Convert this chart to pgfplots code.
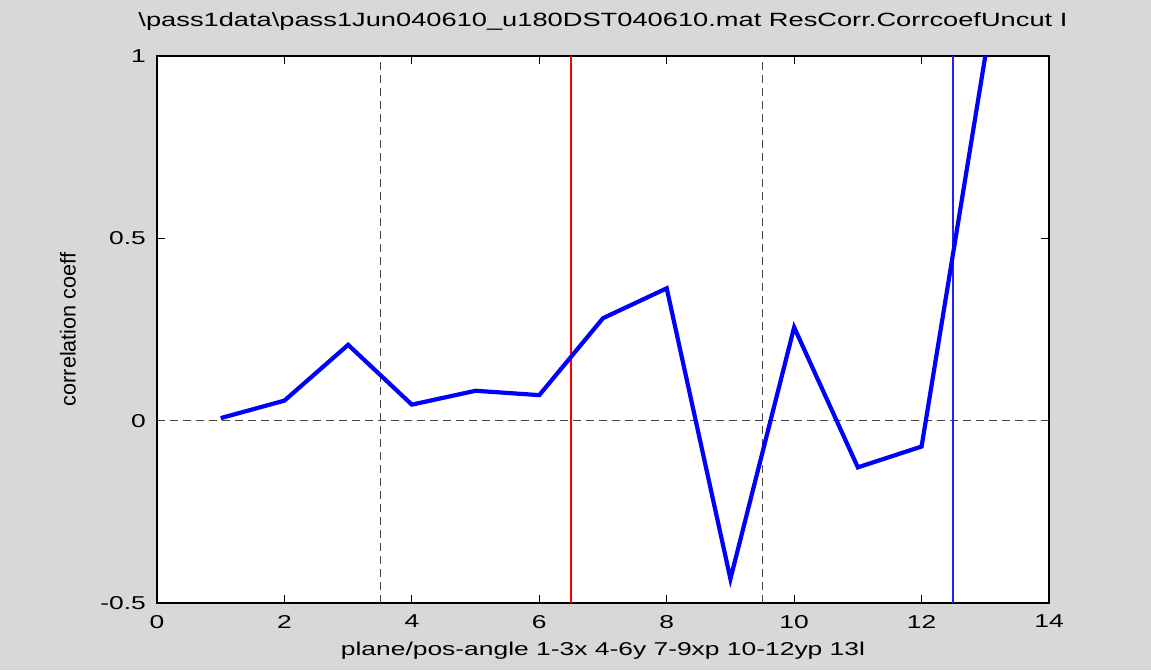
\documentclass[border=0pt]{standalone}
\usepackage{fontspec}
\setmainfont{Liberation Sans}[FakeStretch=1.42]
\newfontfamily\ylfont{Liberation Sans}
\usepackage{pgfplots}
\pgfplotsset{compat=1.18}

\definecolor{figbg}{RGB}{216,216,216}
\definecolor{mblue}{RGB}{0,0,255}
\definecolor{vblue}{RGB}{30,30,255}
\definecolor{mred}{RGB}{255,0,0}
\definecolor{dashgray}{RGB}{70,70,70}

\begin{document}
\begin{tikzpicture}
\fill[figbg] (0,0) rectangle (575.5pt,335pt);
\begin{axis}[
    at={(78.5pt,33.5pt)}, anchor=south west,
    scale only axis,
    width=446pt, height=273.5pt,
    xmin=0, xmax=14, ymin=-0.5, ymax=1,
    xtick={0,2,...,14},
    ytick={-0.5,0,0.5,1},
    tick align=inside,
    xtick pos=both, ytick pos=both,
    major tick length=4pt,
    axis line style={line width=0.6pt},
    every tick/.style={black, line width=0.5pt},
    axis background/.style={fill=white},
    font=\fontsize{9.3}{11}\selectfont,
    /pgf/number format/assume math mode=true,
    xticklabel style={yshift=-2.5pt},
    yticklabel style={xshift=-2pt},
    title={\textbackslash pass1data\textbackslash pass1Jun040610\_u180DST040610.mat ResCorr.CorrcoefUncut I},
    title style={at={(axis description cs:0.5,1)}, anchor=base, yshift=8.9pt, inner sep=0pt,
        font=\fontsize{9.6}{11}\selectfont},
    xlabel={plane/pos-angle 1-3x 4-6y 7-9xp 10-12yp 13l},
    xlabel style={at={(axis description cs:0.5,0)}, anchor=base, yshift=-26pt, inner sep=0pt},
    ylabel={\fontsize{10.8}{12}\ylfont correlation coeff},
    every axis y label/.style={at={(axis description cs:-0.0998,0.5)}, rotate=90, anchor=center, inner sep=0pt},
    clip=true,
]
% reference lines
\addplot[dashgray, line width=0.5pt, dash pattern=on 4pt off 2.5pt] coordinates {(0,0) (14,0)};
\addplot[dashgray, line width=0.5pt, dash pattern=on 4pt off 2.5pt] coordinates {(3.5,-0.5) (3.5,1)};
\addplot[dashgray, line width=0.5pt, dash pattern=on 4pt off 2.5pt] coordinates {(9.5,-0.5) (9.5,1)};
\addplot[draw=mred, line width=0.7pt] coordinates {(6.5,-0.5) (6.5,1)};
\addplot[draw=vblue, line width=1pt] coordinates {(12.5,-0.5) (12.5,1)};
% correlation coefficients
\addplot[mblue, line width=2.1pt, line join=miter] coordinates {
    (1,0.007) (2,0.055) (3,0.208) (4,0.044) (5,0.082) (6,0.070)
    (7,0.281) (8,0.363) (9,-0.434) (10,0.256) (11,-0.128) (12,-0.071) (13,1.0)
};
\end{axis}
\pgfresetboundingbox
\path (0,0) rectangle (575.5pt,335pt);
\end{tikzpicture}
\end{document}
